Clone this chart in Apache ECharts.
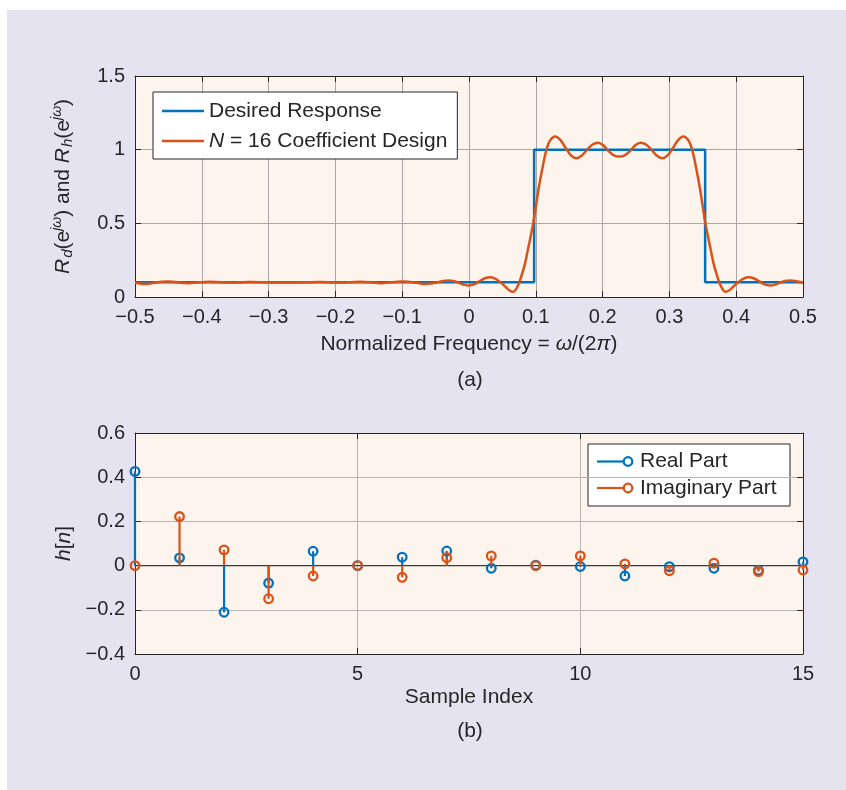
<!DOCTYPE html>
<html><head><meta charset="utf-8">
<script src="https://cdn.jsdelivr.net/npm/echarts@6/dist/echarts.min.js"></script>
<style>html,body{margin:0;padding:0;background:#fff;}#c{width:846px;height:790px;}</style>
</head><body><div id="c"></div>
<script>
// ---------- data ----------
const freq = [-0.5,-0.492,-0.485,-0.476,-0.468,-0.46,-0.451,-0.443,-0.435,-0.427,-0.419,-0.411,-0.403,-0.395,-0.387,-0.379,-0.37,-0.362,-0.354,-0.346,-0.338,-0.33,-0.322,-0.31,-0.298,-0.286,-0.275,-0.264,-0.252,-0.24,-0.228,-0.22,-0.212,-0.204,-0.196,-0.188,-0.18,-0.171,-0.163,-0.155,-0.147,-0.139,-0.131,-0.123,-0.115,-0.107,-0.099,-0.091,-0.082,-0.073,-0.065,-0.057,-0.048,-0.04,-0.031,-0.023,-0.015,-0.008,0,0.008,0.016,0.024,0.031,0.039,0.047,0.055,0.06,0.066,0.073,0.079,0.084,0.089,0.0965,0.104,0.111,0.116,0.121,0.129,0.137,0.145,0.153,0.161,0.169,0.177,0.185,0.193,0.201,0.209,0.217,0.225,0.233,0.241,0.249,0.257,0.265,0.273,0.281,0.289,0.297,0.305,0.313,0.321,0.329,0.334,0.339,0.346,0.3535,0.361,0.366,0.371,0.377,0.384,0.39,0.395,0.403,0.411,0.419,0.426,0.434,0.442,0.45,0.458,0.465,0.473,0.481,0.49,0.5];
const response = [0.097,0.091,0.088,0.092,0.099,0.104,0.106,0.104,0.099,0.095,0.094,0.096,0.1,0.102,0.103,0.102,0.1,0.098,0.097,0.098,0.1,0.101,0.101,0.1,0.099,0.099,0.099,0.099,0.099,0.1,0.101,0.101,0.1,0.098,0.097,0.098,0.1,0.102,0.103,0.102,0.099,0.096,0.094,0.096,0.1,0.104,0.106,0.104,0.098,0.092,0.088,0.091,0.099,0.107,0.112,0.108,0.096,0.084,0.078,0.087,0.108,0.127,0.134,0.125,0.1,0.068,0.046,0.035,0.075,0.15,0.23,0.34,0.51,0.73,0.9,1.0,1.06,1.09,1.065,1.01,0.96,0.942,0.96,1.0,1.035,1.047,1.03,0.99,0.962,0.953,0.962,0.99,1.03,1.047,1.035,1.0,0.96,0.942,0.96,1.01,1.065,1.09,1.06,1.0,0.9,0.73,0.51,0.34,0.23,0.15,0.075,0.035,0.046,0.068,0.1,0.125,0.134,0.127,0.108,0.087,0.078,0.084,0.096,0.108,0.112,0.107,0.097];
const desiredFreq = [-0.5, 0.0975, 0.0975, 0.3535, 0.3535, 0.5];
const desiredResp = [0.1, 0.1, 1, 1, 0.1, 0.1];
const sampleIndex = [0,1,2,3,4,5,6,7,8,9,10,11,12,13,14,15];
const realPart = [0.426,0.035,-0.211,-0.079,0.065,0.0,0.038,0.066,-0.012,0.002,-0.004,-0.047,-0.005,-0.012,-0.021,0.017];
const imagPart = [0.0,0.222,0.071,-0.150,-0.047,0.0,-0.053,0.036,0.044,0.0,0.044,0.008,-0.023,0.011,-0.027,-0.020];
const baseline = [0, 15];

const BLUE = '#0072BD', RED = '#D95319';
const FONT = '"Liberation Sans", Arial, Helvetica, sans-serif';
const TXT = '#262626';
const FS = 20;   // tick labels
const FN = 21;   // names, legends, captions

const fmt = v => (Math.round(v * 100) / 100).toString().replace('-', '\u2212');

function axisBase(extra) {
  return Object.assign({
    type: 'value',
    axisLine: { show: true, onZero: false, lineStyle: { color: TXT, width: 1 } },
    axisTick: { show: true, inside: true, length: 6, lineStyle: { color: TXT, width: 1 } },
    axisLabel: { show: true, color: TXT, fontSize: FS, fontFamily: FONT, formatter: fmt, margin: 10 },
    splitLine: { show: false },
    nameTextStyle: { color: TXT, fontSize: FN, fontFamily: FONT }
  }, extra);
}
const grid1Split = { show: true, lineStyle: { color: '#aca7a4', width: 1 } };
const grid2Split = { show: true, lineStyle: { color: '#b9b5b2', width: 1 } };

const chart = echarts.init(document.getElementById('c'), null, { renderer: 'canvas' });

function stemRender(color) {
  return function (params, api) {
    const x = api.value(0), y = api.value(1);
    const p0 = api.coord([x, 0]), p1 = api.coord([x, y]);
    return {
      type: 'group',
      children: [
        { type: 'line', shape: { x1: p0[0], y1: p0[1], x2: p1[0], y2: p1[1] }, style: { stroke: color, lineWidth: 2.2 } },
        { type: 'circle', shape: { cx: p1[0], cy: p1[1], r: 4.3 }, style: { fill: 'none', stroke: color, lineWidth: 2.3 } }
      ]
    };
  };
}

const richN = { fontSize: FN, fontFamily: FONT, color: TXT };
const richI = { fontSize: FN, fontFamily: FONT, color: TXT, fontStyle: 'italic' };

const option = {
  backgroundColor: '#ffffff',
  animation: false,
  textStyle: { fontFamily: FONT },
  grid: [
    { left: 135, top: 76, width: 668, height: 221, show: true, backgroundColor: '#fdf4ee', borderWidth: 0 },
    { left: 135, top: 433, width: 668, height: 221, show: true, backgroundColor: '#fdf4ee', borderWidth: 0 }
  ],
  xAxis: [
    axisBase({ gridIndex: 0, position: 'bottom', min: -0.5, max: 0.5, interval: 0.1, splitLine: grid1Split,
      name: '{n|Normalized Frequency = }{i|\u03c9}{n|/(2}{i|\u03c0}{n|)}', nameLocation: 'middle', nameGap: 37,
      nameTextStyle: { color: TXT, fontSize: FN, fontFamily: FONT, rich: { n: richN, i: richI } } }),
    axisBase({ gridIndex: 0, position: 'top', min: -0.5, max: 0.5, interval: 0.1, axisLabel: { show: false } }),
    axisBase({ gridIndex: 1, position: 'bottom', min: 0, max: 15, interval: 5, splitLine: grid2Split,
      name: 'Sample Index', nameLocation: 'middle', nameGap: 33 }),
    axisBase({ gridIndex: 1, position: 'top', min: 0, max: 15, interval: 5, axisLabel: { show: false } })
  ],
  yAxis: [
    axisBase({ gridIndex: 0, position: 'left', min: 0, max: 1.5, interval: 0.5, splitLine: grid1Split,
      name: '{i|R}{sub|d}{n|(e}{sup|j\u03c9}{n|) and }{i|R}{sub|h}{n|(e}{sup|j\u03c9}{n|)}',
      nameLocation: 'middle', nameRotate: 90, nameGap: 58,
      nameTextStyle: { color: TXT, fontSize: FN, fontFamily: FONT, rich: {
        n: richN, i: richI,
        sub: { fontSize: 15, fontFamily: FONT, color: TXT, fontStyle: 'italic', padding: [9, 0, 0, 1] },
        sup: { fontSize: 14, fontFamily: FONT, color: TXT, fontStyle: 'italic', padding: [0, 0, 13, 0] } } } }),
    axisBase({ gridIndex: 0, position: 'right', min: 0, max: 1.5, interval: 0.5, axisLabel: { show: false } }),
    axisBase({ gridIndex: 1, position: 'left', min: -0.4, max: 0.6, interval: 0.2, splitLine: grid2Split,
      name: '{i|h}{n|[}{i|n}{n|]}', nameLocation: 'middle', nameRotate: 90, nameGap: 58,
      nameTextStyle: { color: TXT, fontSize: FN, fontFamily: FONT, rich: { n: richN, i: richI } } }),
    axisBase({ gridIndex: 1, position: 'right', min: -0.4, max: 0.6, interval: 0.2, axisLabel: { show: false } })
  ],
  legend: {
    left: 153, top: 92, orient: 'vertical',
    data: ['Desired Response', 'N = 16 Coefficient Design'],
    icon: 'rect', itemWidth: 42, itemHeight: 2.6, itemGap: 6,
    padding: [7, 10, 6, 9],
    backgroundColor: '#ffffff', borderColor: TXT, borderWidth: 1, borderRadius: 0,
    textStyle: { color: TXT, fontSize: FN, fontFamily: FONT, lineHeight: 24,
      rich: { i: Object.assign({ lineHeight: 24 }, richI), n: Object.assign({ lineHeight: 24 }, richN) } },
    formatter: name => name.startsWith('N =') ? '{i|N}{n|' + name.slice(1) + '}' : name
  },
  series: [
    { name: 'Desired Response', type: 'line', xAxisIndex: 0, yAxisIndex: 0, symbol: 'none',
      data: desiredFreq.map((f, i) => [f, desiredResp[i]]),
      lineStyle: { color: BLUE, width: 2.5 }, itemStyle: { color: BLUE }, z: 3 },
    { name: 'N = 16 Coefficient Design', type: 'line', xAxisIndex: 0, yAxisIndex: 0, symbol: 'none', smooth: 0.35,
      data: freq.map((f, i) => [f, response[i]]),
      lineStyle: { color: RED, width: 2.5 }, itemStyle: { color: RED }, z: 4 },
    { name: 'baseline', type: 'line', xAxisIndex: 2, yAxisIndex: 2, symbol: 'none',
      data: baseline.map(x => [x, 0]), lineStyle: { color: '#3a3a3a', width: 1.2 }, z: 2 },
    { name: 'Real Part', type: 'custom', xAxisIndex: 2, yAxisIndex: 2, renderItem: stemRender(BLUE),
      data: sampleIndex.map((n, i) => [n, realPart[i]]), z: 3 },
    { name: 'Imaginary Part', type: 'custom', xAxisIndex: 2, yAxisIndex: 2, renderItem: stemRender(RED),
      data: sampleIndex.map((n, i) => [n, imagPart[i]]), z: 4 }
  ],
  graphic: [
    { type: 'rect', z: -100, silent: true, shape: { x: 7, y: 10, width: 839, height: 780 }, style: { fill: '#e6e3f1' } },
    { type: 'text', style: { text: '(a)', x: 470, y: 380, textAlign: 'center', textVerticalAlign: 'middle', fontSize: FN, fontFamily: FONT, fill: TXT } },
    { type: 'text', style: { text: '(b)', x: 470, y: 731, textAlign: 'center', textVerticalAlign: 'middle', fontSize: FN, fontFamily: FONT, fill: TXT } },
    { type: 'group', z: 50, children: [
      { type: 'rect', shape: { x: 588, y: 444, width: 202, height: 62 }, style: { fill: '#ffffff', stroke: TXT, lineWidth: 1 } },
      { type: 'line', shape: { x1: 597, y1: 461.5, x2: 624, y2: 461.5 }, style: { stroke: BLUE, lineWidth: 2.2 } },
      { type: 'circle', shape: { cx: 628, cy: 461.5, r: 4.3 }, style: { fill: 'none', stroke: BLUE, lineWidth: 2.3 } },
      { type: 'text', style: { text: 'Real Part', x: 640, y: 461.5, textVerticalAlign: 'middle', fontSize: FN, fontFamily: FONT, fill: TXT } },
      { type: 'line', shape: { x1: 597, y1: 488, x2: 624, y2: 488 }, style: { stroke: RED, lineWidth: 2.2 } },
      { type: 'circle', shape: { cx: 628, cy: 488, r: 4.3 }, style: { fill: 'none', stroke: RED, lineWidth: 2.3 } },
      { type: 'text', style: { text: 'Imaginary Part', x: 640, y: 488, textVerticalAlign: 'middle', fontSize: FN, fontFamily: FONT, fill: TXT } }
    ] }
  ]
};
chart.setOption(option);
</script></body></html>
